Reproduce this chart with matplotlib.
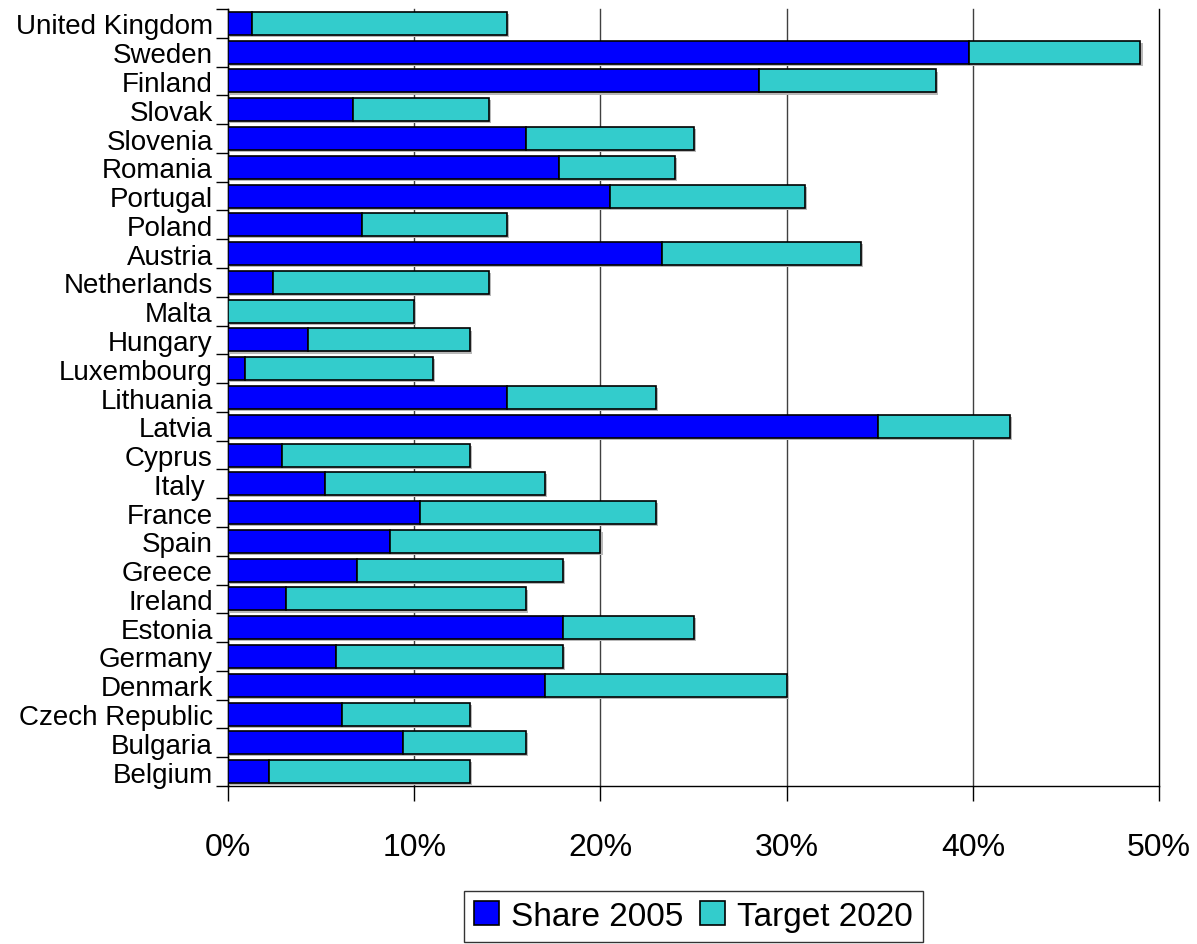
import numpy as np
import matplotlib.pyplot as plt
import matplotlib.patheffects as pe
from matplotlib.ticker import FuncFormatter, FixedLocator

plt.rcParams['font.family'] = ['Liberation Sans', 'DejaVu Sans']

# bottom to top
countries = ['Belgium', 'Bulgaria', 'Czech Republic', 'Denmark', 'Germany', 'Estonia',
             'Ireland', 'Greece', 'Spain', 'France', 'Italy ', 'Cyprus', 'Latvia',
             'Lithuania', 'Luxembourg', 'Hungary', 'Malta', 'Netherlands', 'Austria',
             'Poland', 'Portugal', 'Romania', 'Slovenia', 'Slovak', 'Finland', 'Sweden',
             'United Kingdom']
share_2005 = [2.2, 9.4, 6.1, 17.0, 5.8, 18.0, 3.1, 6.9, 8.7, 10.3, 5.2, 2.9, 34.9,
              15.0, 0.9, 4.3, 0.0, 2.4, 23.3, 7.2, 20.5, 17.8, 16.0, 6.7, 28.5, 39.8, 1.3]
target_2020 = [13, 16, 13, 30, 18, 25, 16, 18, 20, 23, 17, 13, 42,
               23, 11, 13, 10, 14, 34, 15, 31, 24, 25, 14, 38, 49, 15]

share = np.array(share_2005) / 100
target = np.array(target_2020) / 100
y = np.arange(len(countries))

fig = plt.figure(figsize=(11.97, 9.45), dpi=100)
ax = fig.add_axes([0.1905, 0.1672, 0.7778, 0.8222])

shadow = [pe.SimplePatchShadow(offset=(1.5, -1.5), shadow_rgbFace='#b8b8b8', alpha=1), pe.Normal()]
b1 = ax.barh(y, share, height=0.8, color='#0000FF', edgecolor='black', linewidth=1.2,
             label='Share 2005', zorder=3)
b2 = ax.barh(y, target - share, left=share, height=0.8, color='#33CCCC', edgecolor='black',
             linewidth=1.2, label='Target 2020', zorder=3)
for bar in list(b1) + list(b2):
    bar.set_path_effects(shadow)

ax.set_xlim(0, 0.5)
ax.set_ylim(-0.5, len(countries) - 0.5)
ax.set_xticks(np.arange(0, 0.51, 0.1))
ax.xaxis.set_major_formatter(FuncFormatter(lambda v, p: f'{v*100:.0f}%'))
ax.tick_params(axis='x', labelsize=23, length=11, width=1, pad=22, color='black')

ax.set_yticks(y)
ax.set_yticklabels(countries)
ax.tick_params(axis='y', which='major', length=0, labelsize=20, pad=11)
ax.yaxis.set_minor_locator(FixedLocator(np.arange(-0.5, len(countries), 1)))
ax.tick_params(axis='y', which='minor', length=9, width=1)

ax.grid(axis='x', color='#404040', linewidth=1, zorder=0)
ax.set_axisbelow(True)
for gl in ax.xaxis.get_gridlines():
    gl.set_clip_on(False)
ax.xaxis.get_gridlines()[-1].set_color('black')
for s in ['top', 'right']:
    ax.spines[s].set_visible(False)
for s in ['left', 'bottom']:
    ax.spines[s].set_linewidth(1)

leg = ax.legend(loc='upper center', bbox_to_anchor=(0.5, -0.135), ncol=2, fontsize=24,
                frameon=True, fancybox=False, edgecolor='black', handlelength=0.75,
                handleheight=0.75, handletextpad=0.35, columnspacing=0.5, borderpad=0.3,
                borderaxespad=0)
leg.get_frame().set_linewidth(1)
for h in leg.legend_handles:
    h.set_path_effects([])

fig.savefig('out.png', dpi=100)
